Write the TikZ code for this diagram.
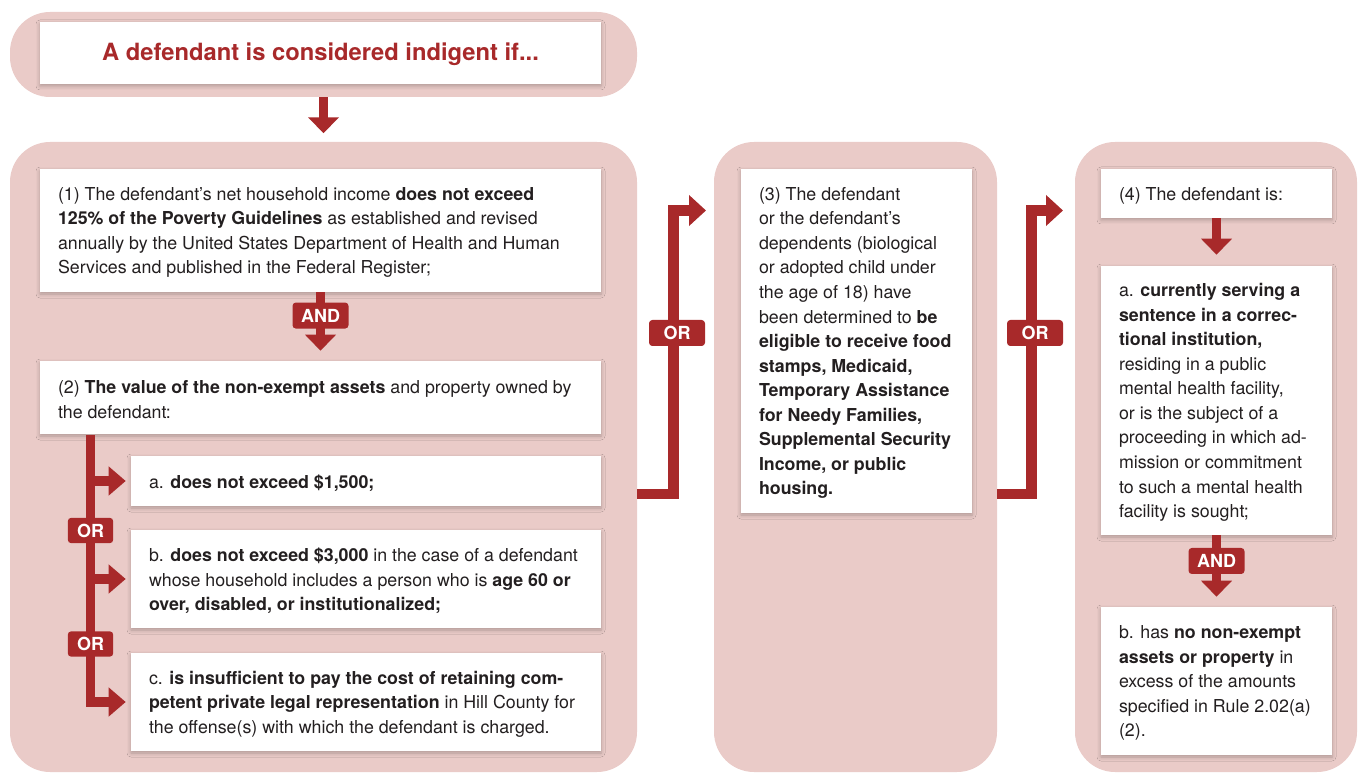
\documentclass[tikz,border=0pt]{standalone}
\usepackage{fontspec}
\setmainfont{TeX Gyre Heros}
\usetikzlibrary{arrows.meta,fit,shadows.blur}
\definecolor{pinkbg}{HTML}{EACBC8}
\definecolor{redc}{HTML}{A8292A}
\definecolor{txt}{HTML}{231F20}
\tikzset{
 panel/.style={fill=pinkbg, draw=none, rounded corners=30pt, inner sep=0pt},
 wbox/.style={fill=white, draw=none, inner sep=0pt, blur shadow={shadow xshift=0pt, shadow yshift=-1.5pt, shadow blur radius=3pt, shadow opacity=25}},
 body/.style={anchor=west, align=left, inner sep=0pt, text=txt, font=\fontsize{13.35pt}{18.4pt}\selectfont},
 tag/.style={fill=redc, rounded corners=2.5pt, text=white, font=\bfseries\fontsize{13.5pt}{14pt}\selectfont, minimum width=42pt, minimum height=19.5pt, inner sep=0pt},
 smalltag/.style={tag, minimum width=34pt, minimum height=19pt},
 bigarrow/.style={draw=redc, line width=7.1pt, -{Triangle[width=22.5pt,length=12pt]}},
 brarrow/.style={draw=redc, line width=6.9pt, -{Triangle[width=21pt,length=12.75pt]}},
 orline/.style={draw=redc, line width=7.9pt, -{Triangle[width=22.5pt,length=12.75pt]}},
}
\begin{document}
\begin{tikzpicture}[x=0.75pt,y=-0.75pt]
\useasboundingbox (0,0) rectangle (1360,773);
% panels
\node[panel, fit={(10,12)(637,97)}] (hdr) {};
\node[panel, fit={(10,142)(637,772)}] (pleft) {};
\node[panel, fit={(714,142)(997,772)}] (pmid) {};
\node[panel, fit={(1075,142)(1357,772)}] (pright) {};

% connectors (behind boxes)
\draw[bigarrow] (hdr.south) -- ++(0,36);
\coordinate (trunk) at (90.5,435);
\coordinate (o1a) at (637,494);
\coordinate (o1b) at (706,210.5);
\coordinate (o2a) at (997,494);
\coordinate (o2b) at (1063,210.5);
\draw[orline] (o1a) -- (673.5,494) |- (o1b);
\draw[orline] (o2a) -- (1031.5,494) |- (o2b);

% white boxes
\node[wbox, fit={(40,22)(601,84)}] (title) {};
\node[wbox, fit={(40,169)(601,292)}] (b1) {};
\node[wbox, fit={(40,361)(601,434)}] (b2) {};
\node[wbox, fit={(131,456)(601,506)}] (ba) {};
\node[wbox, fit={(131,530)(601,628)}] (bb) {};
\node[wbox, fit={(131,653)(601,751)}] (bc) {};
\node[wbox, fit={(741,169)(972,513)}] (b3) {};
\node[wbox, fit={(1101,169)(1332,218)}] (b4) {};
\node[wbox, fit={(1101,266)(1332,535)}] (b4a) {};
\node[wbox, fit={(1101,607)(1332,755)}] (b4b) {};

% trunk and branches
\draw[brarrow, shorten >=3.75pt] (trunk) |- (bc.west);
\draw[brarrow, shorten >=3.75pt] (trunk |- ba.west) -- (ba.west);
\draw[brarrow, shorten >=3.75pt] (trunk |- bb.west) -- (bb.west);
\node[smalltag] (orA) at (90.5,530.5) {OR};
\node[smalltag] (orB) at (90.5,644) {OR};

% AND arrows
\draw[bigarrow, shorten >=7.5pt] (b1.south) -- node[tag, pos=0.34] (and1) {AND} (b2.north);
\draw[bigarrow, shorten >=8.25pt] (b4.south) -- (b4a.north);
\draw[bigarrow, shorten >=7.5pt] (b4a.south) -- node[tag, pos=0.36] (and2) {AND} (b4b.north);

% OR tags between panels
\node[tag] (or1) at (677,333) {OR};
\node[tag] (or2) at (1035,333) {OR};

% texts
\node[text=redc, font=\bfseries\fontsize{17.8pt}{20pt}\selectfont, inner sep=0pt] (ttl) at ([yshift=-1pt]title.center) {A defendant is considered indigent if...};

\node[body] (t1) at ([xshift=13.5pt,yshift=-1.5pt]b1.west) {(1) The defendant’s net household income \textbf{does not exceed}\\ \textbf{125\% of the Poverty Guidelines} as established and revised\\ annually by the United States Department of Health and Human\\ Services and published in the Federal Register;};
\node[body] (t2) at ([xshift=13.5pt,yshift=-1.5pt]b2.west) {(2) \textbf{The value of the non-exempt assets} and property owned by\\ the defendant:};
\node[body] (ta) at ([xshift=13.5pt,yshift=-1.5pt]ba.west) {a. \textbf{does not exceed \$1,500;}};
\node[body] (tb) at ([xshift=13.5pt,yshift=-1.5pt]bb.west) {b. \textbf{does not exceed \$3,000} in the case of a defendant\\ whose household includes a person who is \textbf{age 60 or}\\ \textbf{over, disabled, or institutionalized;}};
\node[body] (tc) at ([xshift=13.5pt,yshift=-1.5pt]bc.west) {c. \textbf{is insufficient to pay the cost of retaining com-}\\ \textbf{petent private legal representation} in Hill County for\\ the offense(s) with which the defendant is charged.};
\node[body] (t3) at ([xshift=13.5pt,yshift=-1.5pt]b3.west) {(3) The defendant\\ or the defendant’s\\ dependents (biological\\ or adopted child under\\ the age of 18) have\\ been determined to \textbf{be}\\ \textbf{eligible to receive food}\\ \textbf{stamps, Medicaid,}\\ \textbf{Temporary Assistance}\\ \textbf{for Needy Families,}\\ \textbf{Supplemental Security}\\ \textbf{Income, or public}\\ \textbf{housing.}};
\node[body] (t4) at ([xshift=13.5pt,yshift=-1.5pt]b4.west) {(4) The defendant is:};
\node[body] (t4a) at ([xshift=13.5pt,yshift=-1.5pt]b4a.west) {a. \textbf{currently serving a}\\ \textbf{sentence in a correc-}\\ \textbf{tional institution,}\\ residing in a public\\ mental health facility,\\ or is the subject of a\\ proceeding in which ad-\\ mission or commitment\\ to such a mental health\\ facility is sought;};
\node[body] (t4b) at ([xshift=13.5pt,yshift=-1.5pt]b4b.west) {b. has \textbf{no non-exempt}\\ \textbf{assets or property} in\\ excess of the amounts\\ specified in Rule 2.02(a)\\ (2).};
\end{tikzpicture}
\end{document}
